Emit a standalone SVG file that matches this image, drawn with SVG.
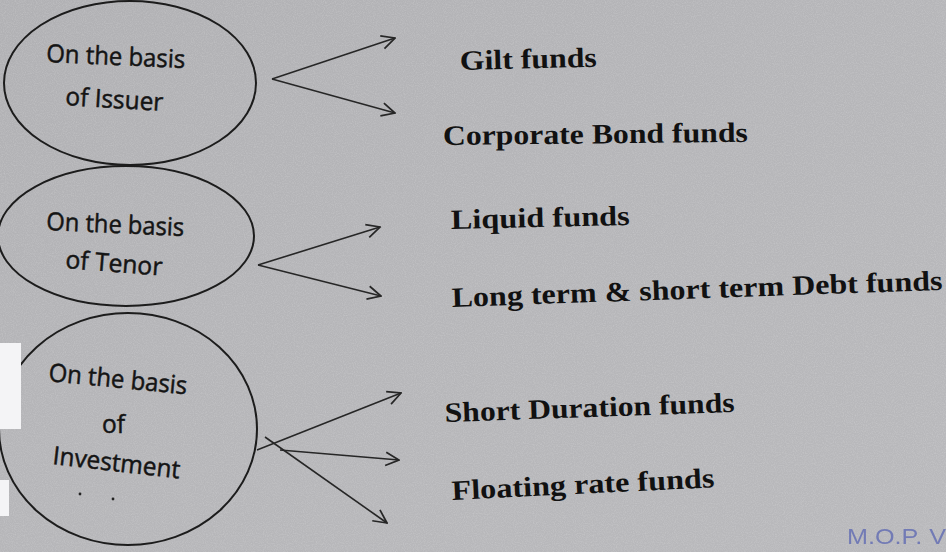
<svg xmlns="http://www.w3.org/2000/svg" width="946" height="552" viewBox="0 0 946 552">
  <defs>
    <filter id="grain" x="0" y="0" width="100%" height="100%">
      <feTurbulence type="fractalNoise" baseFrequency="0.9" numOctaves="2" seed="3" result="n"/>
      <feColorMatrix in="n" type="matrix" values="0 0 0 0 1  0 0 0 0 1  0 0 0 0 1  0 0 0 0.9 -0.35"/>
    </filter>
    <linearGradient id="bg" x1="0" y1="0" x2="1" y2="1">
      <stop offset="0" stop-color="#b1b1b4"/>
      <stop offset="0.5" stop-color="#b6b6b9"/>
      <stop offset="1" stop-color="#b9b9bc"/>
    </linearGradient>
    <marker id="open" viewBox="0 0 12 12" refX="11" refY="6" markerWidth="16" markerHeight="16" markerUnits="userSpaceOnUse" orient="auto">
      <path d="M1,1 L11,6 L1,11" fill="none" stroke="#262626" stroke-width="1.3"/>
    </marker>
    <style>
      .oval { fill: none; stroke: #1c1c1c; stroke-width: 2; }
      .lbl { font-family: "Open Sans", "Noto Sans", "Liberation Sans", sans-serif; font-size: 25px; fill: #141414; stroke: #141414; stroke-width: 0.5; }
      .item { font-family: "Liberation Serif", "DejaVu Serif", serif; font-weight: bold; font-size: 28px; fill: #111111; }
      .arrow { fill: none; stroke: #262626; stroke-width: 1.6; marker-end: url(#open); }
      .stamp { font-family: "Liberation Sans", sans-serif; font-size: 22px; fill: #6670b4; opacity: 0.85; }
      .patch { fill: #f4f4f6; }
    </style>
  </defs>

  <rect x="0" y="0" width="946" height="552" fill="url(#bg)"/>
  <rect x="0" y="0" width="946" height="552" filter="url(#grain)" opacity="0.35"/>

  <g id="node-issuer">
    <ellipse class="oval" cx="130" cy="83" rx="126" ry="82"/>
    <text class="lbl" x="46" y="62" textLength="139" lengthAdjust="spacingAndGlyphs" transform="rotate(2.5 46 62)">On the basis</text>
    <text class="lbl" x="65" y="105" textLength="98" lengthAdjust="spacingAndGlyphs" transform="rotate(3.5 65 105)">of Issuer</text>
  </g>

  <g id="node-tenor">
    <ellipse class="oval" cx="126" cy="236" rx="128" ry="70"/>
    <text class="lbl" x="46" y="230" textLength="138" lengthAdjust="spacingAndGlyphs" transform="rotate(2.5 46 230)">On the basis</text>
    <text class="lbl" x="65" y="268" textLength="97" lengthAdjust="spacingAndGlyphs" transform="rotate(4.5 65 268)">of Tenor</text>
  </g>

  <g id="node-investment">
    <ellipse class="oval" cx="128" cy="429" rx="129" ry="116"/>
    <text class="lbl" x="48" y="381" textLength="139" lengthAdjust="spacingAndGlyphs" transform="rotate(5.5 48 381)">On the basis</text>
    <text class="lbl" x="102" y="433" textLength="23" lengthAdjust="spacingAndGlyphs">of</text>
    <text class="lbl" x="52" y="464" textLength="128" lengthAdjust="spacingAndGlyphs" transform="rotate(6.5 52 464)">Investment</text>
    <circle cx="80" cy="494" r="1.4" fill="#222"/>
    <circle cx="113" cy="499" r="1.4" fill="#222"/>
  </g>

  <rect class="patch" x="0" y="343" width="21" height="86"/>
  <rect class="patch" x="0" y="480" width="9" height="36"/>

  <g id="connectors">
    <path class="arrow" d="M272,79 L395,38"/>
    <path class="arrow" d="M272,79 L395,113"/>
    <path class="arrow" d="M258,265 L380,227"/>
    <path class="arrow" d="M258,265 L381,296"/>
    <path class="arrow" d="M257,450 L401,393"/>
    <path class="arrow" d="M280,450 L399,460"/>
    <path class="arrow" d="M265,437 L387,523"/>
  </g>

  <g id="node-gilt">
    <text class="item" x="460" y="70" textLength="137" lengthAdjust="spacingAndGlyphs" transform="rotate(-1.4 460 70)">Gilt funds</text>
  </g>
  <g id="node-corporate">
    <text class="item" x="443" y="145" textLength="305" lengthAdjust="spacingAndGlyphs" transform="rotate(-0.6 443 145)">Corporate Bond funds</text>
  </g>
  <g id="node-liquid">
    <text class="item" x="451" y="229" textLength="179" lengthAdjust="spacingAndGlyphs" transform="rotate(-1.3 451 229)">Liquid funds</text>
  </g>
  <g id="node-longshort">
    <text class="item" x="452" y="307" textLength="491" lengthAdjust="spacingAndGlyphs" transform="rotate(-2 452 307)">Long term &amp; short term Debt funds</text>
  </g>
  <g id="node-shortduration">
    <text class="item" x="445" y="422" textLength="290" lengthAdjust="spacingAndGlyphs" transform="rotate(-2 445 422)">Short Duration funds</text>
  </g>
  <g id="node-floating">
    <text class="item" x="452" y="500" textLength="263" lengthAdjust="spacingAndGlyphs" transform="rotate(-2.8 452 500)">Floating rate funds</text>
  </g>

  <text class="stamp" x="847" y="544" textLength="99" lengthAdjust="spacingAndGlyphs">M.O.P. V</text>
</svg>
